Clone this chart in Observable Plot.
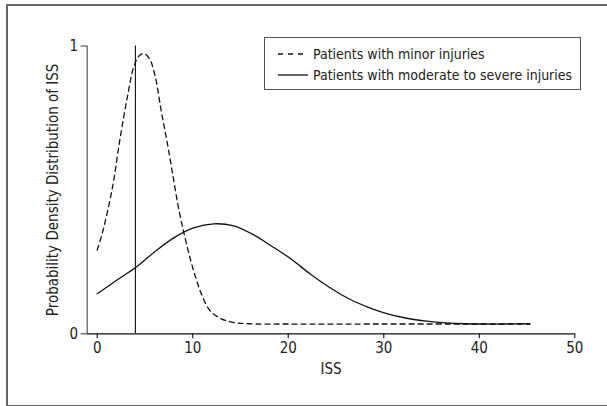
<!DOCTYPE html>
<html>
<head>
<meta charset="utf-8">
<script src="https://cdn.jsdelivr.net/npm/d3@7"></script>
<script src="https://cdn.jsdelivr.net/npm/@observablehq/plot@0.6"></script>
<style>
  html, body { margin: 0; padding: 0; background: #fff; }
  body { width: 607px; height: 406px; position: relative; overflow: hidden;
         font-family: "DejaVu Sans Condensed", "Liberation Sans Narrow", sans-serif; }
  #chart { position: absolute; left: 0; top: 0; }
  #border { position: absolute; left: 6px; top: 4px; width: 610px; height: 399px;
            border: 2px solid #666; pointer-events: none; }
  #legend { position: absolute; left: 264px; top: 37px; width: 317px; height: 53px;
            border: 1.5px solid #555; box-sizing: border-box; font-size: 14px; color: #222; }
  #legend .row { position: absolute; left: 12px; display: flex; align-items: center; white-space: nowrap; }
  #legend svg { margin-right: 4px; }
</style>
</head>
<body>
<div id="chart"></div>
<div id="legend"></div>
<div id="border"></div>
<script>
// ISS values and probability density
const minorISS = [0, 0.6, 1.6, 2.4, 3.2, 3.85, 4.45, 4.95, 5.5, 6.1, 6.7, 7.3, 7.9, 8.5, 9.1, 9.7, 10.3, 10.9, 11.8, 13, 14.2, 15.8, 20, 30, 40, 45.3];
const minorDensity = [0.291, 0.358, 0.509, 0.68, 0.83, 0.93, 0.968, 0.973, 0.954, 0.89, 0.775, 0.67, 0.555, 0.44, 0.347, 0.266, 0.197, 0.139, 0.081, 0.052, 0.04, 0.035, 0.034, 0.034, 0.034, 0.034];

const severeISS = [0, 2.0, 4.05, 6.1, 8.1, 10.1, 12.2, 14.2, 16.2, 18.2, 20.3, 22.3, 24.3, 26.4, 28.4, 30.4, 32.4, 34.5, 36.5, 38.5, 40.6, 42.6, 45.3];
const severeDensity = [0.139, 0.185, 0.231, 0.287, 0.335, 0.368, 0.382, 0.376, 0.347, 0.306, 0.26, 0.208, 0.162, 0.121, 0.092, 0.069, 0.054, 0.044, 0.038, 0.035, 0.034, 0.034, 0.035];

const cutoffISS = [4];
const xTicks = [0, 10, 20, 30, 40, 50];
const yTicks = [0, 1];
const seriesNames = ["Patients with minor injuries", "Patients with moderate to severe injuries"];
const xLabel = "ISS";
const yLabel = "Probability Density Distribution of ISS";

const minor = minorISS.map((x, i) => ({x, y: minorDensity[i]}));
const severe = severeISS.map((x, i) => ({x, y: severeDensity[i]}));

const xMin = -1.047;
const fontFamily = '"DejaVu Sans Condensed", "Liberation Sans Narrow", sans-serif';

const chart = Plot.plot({
  width: 607,
  height: 406,
  marginLeft: 86.7,
  marginRight: 32.7,
  marginTop: 45.5,
  marginBottom: 72.7,
  style: {fontFamily, fontSize: "14px", color: "#222", background: "transparent"},
  x: {domain: [xMin, 50], ticks: xTicks, label: null},
  y: {domain: [0, 1], ticks: yTicks, label: null},
  marks: [
    Plot.ruleX([xMin], {y1: 0, y2: 1, stroke: "#777", strokeWidth: 1.5}),
    Plot.axisY({ticks: yTicks, tickFormat: d => String(d), tickSize: 6, tickPadding: 3, stroke: "#555", strokeWidth: 1.2, fontSize: 15}),
    Plot.axisX({ticks: xTicks, tickSize: 5, tickPadding: 4, strokeWidth: 1.2, fontSize: 15}),
    Plot.ruleY([0], {x1: xMin, x2: 50, stroke: "#111", strokeWidth: 1.3}),
    Plot.ruleX(cutoffISS, {y1: 0, y2: 1, stroke: "#111", strokeWidth: 1.1}),
    Plot.line(minor, {x: "x", y: "y", curve: "catmull-rom", stroke: "#111", strokeWidth: 1.3, strokeDasharray: "5,4"}),
    Plot.line(severe, {x: "x", y: "y", curve: "catmull-rom", stroke: "#111", strokeWidth: 1.3}),
    Plot.text([xLabel], {frameAnchor: "bottom", dy: 40, fontSize: 15}),
    Plot.text([yLabel], {frameAnchor: "left", textAnchor: "middle", dx: -34, rotate: -90, fontSize: 15})
  ]
});
document.getElementById("chart").append(chart);

// legend
const legend = document.getElementById("legend");
const styles = [{dash: "5,5", top: 8}, {dash: null, top: 29}];
seriesNames.forEach((name, i) => {
  const row = document.createElement("div");
  row.className = "row";
  row.style.top = styles[i].top + "px";
  const ns = "http://www.w3.org/2000/svg";
  const s = document.createElementNS(ns, "svg");
  s.setAttribute("width", 32); s.setAttribute("height", 10);
  const l = document.createElementNS(ns, "line");
  l.setAttribute("x1", 1); l.setAttribute("x2", 31); l.setAttribute("y1", 5); l.setAttribute("y2", 5);
  l.setAttribute("stroke", "#111"); l.setAttribute("stroke-width", 1.3);
  if (styles[i].dash) l.setAttribute("stroke-dasharray", styles[i].dash);
  s.append(l);
  const t = document.createElement("span");
  t.textContent = name;
  row.append(s, t);
  legend.append(row);
});
</script>
</body>
</html>
